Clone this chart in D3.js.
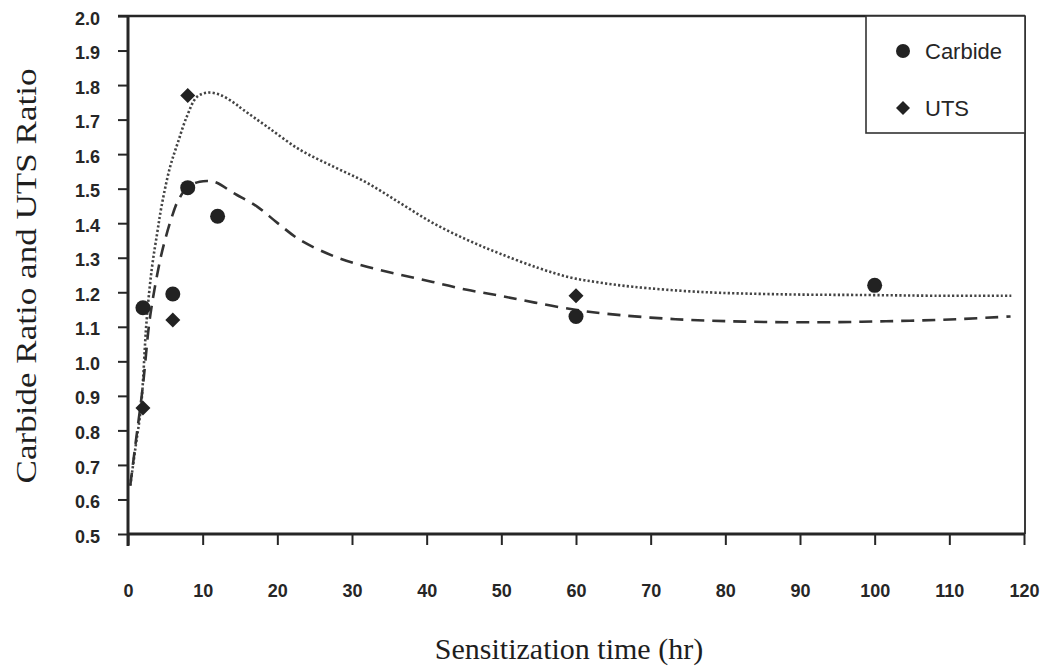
<!DOCTYPE html>
<html>
<head>
<meta charset="utf-8">
<script src="https://cdn.jsdelivr.net/npm/d3@7"></script>
<style>
  html, body { margin: 0; padding: 0; background: #fff; }
  svg { display: block; }
</style>
</head>
<body>
<svg id="chart" width="1050" height="670"></svg>
<script>
// Measured ratios against sensitization time (hours)
const carbideTime  = [2, 6, 8, 12, 60, 100];
const carbideRatio = [1.155, 1.195, 1.503, 1.42, 1.13, 1.22];

const utsTime  = [2, 6, 8, 60];
const utsRatio = [0.865, 1.12, 1.77, 1.19];

// Fitted trend curves, sampled as [time, ratio]
const carbideFit = [
  [0.3, 0.64], [1.0, 0.76], [2.0, 0.93], [2.9, 1.12], [3.9, 1.25], [4.7, 1.33],
  [5.9, 1.42], [6.7, 1.465], [8.0, 1.505], [9.6, 1.52], [11.0, 1.522], [11.9, 1.517],
  [14.1, 1.488], [17.3, 1.448], [20.0, 1.401], [23.0, 1.352], [27.5, 1.305],
  [32.0, 1.274], [36.4, 1.251], [40.8, 1.23], [45.4, 1.207], [49.8, 1.19],
  [54.5, 1.17], [59.7, 1.15], [63.9, 1.138], [73.3, 1.122], [82.6, 1.115],
  [92.1, 1.113], [101.5, 1.116], [110.9, 1.122], [118.2, 1.13]
];
const utsFit = [
  [0.3, 0.64], [1.0, 0.75], [1.75, 0.87], [2.5, 1.12], [3.2, 1.27], [3.9, 1.37],
  [4.5, 1.45], [5.6, 1.56], [6.7, 1.635], [7.9, 1.71], [9.2, 1.765], [10.6, 1.778],
  [12.3, 1.772], [14.1, 1.75], [15.4, 1.729], [18.6, 1.68], [23.0, 1.613],
  [27.5, 1.564], [32.0, 1.517], [36.4, 1.459], [40.8, 1.401], [45.4, 1.352],
  [49.8, 1.312], [55.0, 1.27], [59.2, 1.243], [63.2, 1.228], [67.6, 1.216],
  [76.6, 1.201], [87.7, 1.194], [99.0, 1.192], [108.0, 1.19], [118.3, 1.19]
];

const xTicks = d3.range(0, 121, 10);
const yTicks = d3.range(5, 21).map(v => v / 10);

const legendItems = [
  { label: "Carbide", shape: "circle" },
  { label: "UTS", shape: "diamond" }
];

const svg = d3.select("#chart");
const plotLeft = 128, plotRight = 1024, plotTop = 16, plotBottom = 534;

const x = d3.scaleLinear().domain([0, 120]).range([plotLeft, plotRight]);
const y = d3.scaleLinear().domain([0.5, 2.0]).range([plotBottom, plotTop]);

const ink = "#262626";
const tickFont = "'Liberation Sans', Arial, sans-serif";
const titleFont = "'Liberation Serif', 'Times New Roman', serif";

// plot frame: top and right edges
svg.append("line")
  .attr("x1", 118).attr("x2", 1025).attr("y1", plotTop).attr("y2", plotTop)
  .attr("stroke", ink).attr("stroke-width", 2.5);
svg.append("line")
  .attr("x1", 1025).attr("x2", 1025).attr("y1", plotTop).attr("y2", plotBottom)
  .attr("stroke", "#3a3a3a").attr("stroke-width", 2);

// x axis
const xAxis = svg.append("g")
  .attr("transform", `translate(0,${plotBottom})`)
  .call(d3.axisBottom(x).tickValues(xTicks).tickSize(11).tickSizeOuter(0).tickPadding(0));
xAxis.select(".domain").attr("stroke", ink).attr("stroke-width", 3)
  .attr("d", `M${plotLeft - 1},0H1025`);
xAxis.selectAll(".tick line").attr("stroke", ink).attr("stroke-width", 2);
xAxis.selectAll(".tick text")
  .attr("y", 63).attr("dy", 0)
  .attr("fill", ink)
  .style("font-family", tickFont).style("font-size", "18px").style("font-weight", "bold");

// y axis
const yAxis = svg.append("g")
  .attr("transform", `translate(${plotLeft},0)`)
  .call(d3.axisLeft(y).tickValues(yTicks).tickFormat(d3.format(".1f"))
    .tickSize(10).tickSizeOuter(0).tickPadding(18));
yAxis.select(".domain").attr("stroke", ink).attr("stroke-width", 3)
  .attr("d", `M0,${plotTop}V${plotBottom + 12}`);
yAxis.selectAll(".tick line").attr("stroke", ink).attr("stroke-width", 2);
yAxis.selectAll(".tick text")
  .attr("dy", "0.45em")
  .attr("fill", ink)
  .style("font-family", tickFont).style("font-size", "18px").style("font-weight", "bold");

// trend curves
const line = d3.line()
  .x(d => x(d[0])).y(d => y(d[1]))
  .curve(d3.curveCatmullRom.alpha(0.5));

svg.append("path")
  .datum(utsFit)
  .attr("d", line)
  .attr("fill", "none")
  .attr("stroke", "#444")
  .attr("stroke-width", 2.6)
  .attr("stroke-dasharray", "2.2,2.2");

svg.append("path")
  .datum(carbideFit)
  .attr("d", line)
  .attr("fill", "none")
  .attr("stroke", "#333")
  .attr("stroke-width", 2.6)
  .attr("stroke-dasharray", "13,8");

// markers
const diamond = s => `M0,${-s}L${s},0L0,${s}L${-s},0Z`;

svg.append("g").selectAll("circle")
  .data(d3.zip(carbideTime, carbideRatio))
  .join("circle")
  .attr("cx", d => x(d[0])).attr("cy", d => y(d[1]))
  .attr("r", 7.5).attr("fill", "#222");

svg.append("g").selectAll("path")
  .data(d3.zip(utsTime, utsRatio))
  .join("path")
  .attr("transform", d => `translate(${x(d[0])},${y(d[1])})`)
  .attr("d", diamond(7.5)).attr("fill", "#222");

// legend
const legend = svg.append("g");
legend.append("rect")
  .attr("x", 866).attr("y", plotTop).attr("width", 159).attr("height", 117)
  .attr("fill", "#fff").attr("stroke", "#333").attr("stroke-width", 1.6);
legendItems.forEach((item, i) => {
  const cy = 51 + i * 57;
  if (item.shape === "circle") {
    legend.append("circle").attr("cx", 903).attr("cy", cy).attr("r", 7).attr("fill", "#222");
  } else {
    legend.append("path").attr("transform", `translate(903,${cy})`)
      .attr("d", diamond(7)).attr("fill", "#222");
  }
  legend.append("text")
    .attr("x", 925).attr("y", cy + 8)
    .attr("fill", ink)
    .style("font-family", tickFont).style("font-size", "22px")
    .text(item.label);
});

// axis titles
svg.append("text")
  .attr("x", 569).attr("y", 659)
  .attr("text-anchor", "middle")
  .attr("fill", "#1e1e1e")
  .style("font-family", titleFont).style("font-size", "30px")
  .text("Sensitization time (hr)");

svg.append("text")
  .attr("transform", "translate(36,276) scale(1,1.17) rotate(-90)")
  .attr("text-anchor", "middle")
  .attr("fill", "#1e1e1e")
  .style("font-family", titleFont).style("font-size", "30px")
  .text("Carbide Ratio and UTS Ratio");
</script>
</body>
</html>
